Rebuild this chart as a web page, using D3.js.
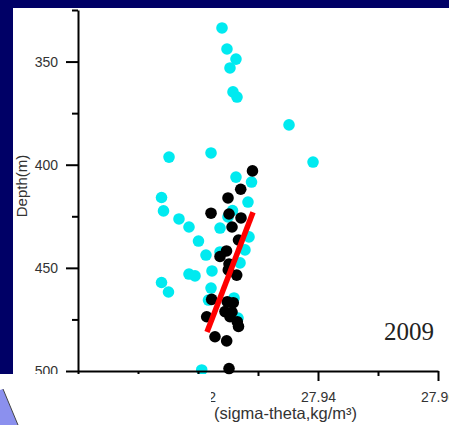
<!DOCTYPE html>
<html>
<head>
<meta charset="utf-8">
<script src="https://cdn.jsdelivr.net/npm/d3@7/dist/d3.min.js"></script>
<style>
  html, body { margin: 0; padding: 0; background: #000066; }
  svg { display: block; }
</style>
</head>
<body>
<svg id="chart" width="449" height="425"></svg>
<script>
// ---- data ----
const cyanSigma = [27.924, 27.92483, 27.92633, 27.92533, 27.92583, 27.9265, 27.93517, 27.93917,
  27.91517, 27.92217, 27.92633, 27.92892, 27.92833, 27.92575, 27.91392, 27.91425, 27.91683, 27.9185,
  27.925, 27.92367, 27.92008, 27.9285, 27.92133, 27.92367, 27.92783, 27.927, 27.92233, 27.9185,
  27.9195, 27.91392, 27.91508, 27.92217, 27.92175, 27.92062, 27.926, 27.92667];
const cyanDepth = [333.7, 343.9, 348.8, 353.1, 364.7, 367.2, 380.7, 398.7,
  396.3, 394.3, 406.0, 408.4, 418.1, 422.2, 415.9, 422.4, 426.3, 430.2,
  425.3, 430.7, 437.0, 435.0, 443.8, 442.3, 441.3, 447.6, 451.5, 453.0,
  453.9, 457.1, 461.7, 459.8, 465.6, 499.5, 464.6, 474.3];

const blackSigma = [27.92908, 27.92712, 27.925, 27.92217, 27.92717, 27.92517, 27.92567, 27.92675,
  27.92475, 27.92367, 27.92517, 27.92505, 27.92645, 27.92228, 27.92488, 27.92588, 27.9245,
  27.92145, 27.92533, 27.92655, 27.92675, 27.92283, 27.92478, 27.92517, 27.92567];
const blackDepth = [403.0, 411.9, 416.1, 423.5, 425.8, 423.9, 430.2, 436.5,
  441.8, 444.5, 448.1, 451.0, 453.5, 465.3, 466.4, 466.9, 471.2,
  473.7, 473.7, 476.1, 478.4, 483.4, 485.4, 498.8, 471.4];

const fitSigma = [27.92917, 27.9215];
const fitDepth = [423.0, 481.1];

const xMajorTicks = [27.90, 27.92, 27.94, 27.96];
const xTickLabels = ["27.90", "27.92", "27.94", "27.96"];
const xMinorTicks = [27.91, 27.93, 27.95];
const yMajorTicks = [350, 400, 450, 500];
const yTickLabels = ["350", "400", "450", "500"];
const yMinorTicks = [325, 375, 425, 475];

const yearLabel = "2009";
const yTitle = "Depth(m)";
const xTitle = "(sigma-theta,kg/m\u00B3)";

// ---- drawing ----
const svg = d3.select("#chart");

// slide background
svg.append("rect").attr("x", 0).attr("y", 0).attr("width", 449).attr("height", 425).attr("fill", "#000066");
svg.append("rect").attr("x", 13).attr("y", 8).attr("width", 436).attr("height", 417).attr("fill", "#ffffff");

const x = d3.scaleLinear().domain([27.90, 27.96]).range([78, 438]);
const y = d3.scaleLinear().domain([325, 500]).range([10, 371]);

const font = "'Liberation Sans', Arial, sans-serif";

// points
const cyan = cyanSigma.map((s, i) => ({s, d: cyanDepth[i]}));
const black = blackSigma.map((s, i) => ({s, d: blackDepth[i]}));

svg.append("g").selectAll("circle").data(cyan).join("circle")
  .attr("cx", d => x(d.s)).attr("cy", d => y(d.d)).attr("r", 5.8).attr("fill", "#00eaf0");
svg.append("g").selectAll("circle").data(black).join("circle")
  .attr("cx", d => x(d.s)).attr("cy", d => y(d.d)).attr("r", 5.8).attr("fill", "#000000");

// fit line
svg.append("line")
  .attr("x1", x(fitSigma[0])).attr("y1", y(fitDepth[0]))
  .attr("x2", x(fitSigma[1])).attr("y2", y(fitDepth[1]))
  .attr("stroke", "#ff0000").attr("stroke-width", 5.5).attr("stroke-linecap", "butt");

// axes
function styleAxis(g) {
  g.selectAll("path, line").attr("stroke", "#000").attr("stroke-width", 2);
  g.selectAll("text").attr("fill", "#333").style("font-family", font).style("font-size", "14px");
}

const yAxis = svg.append("g").attr("transform", "translate(78,0)")
  .call(d3.axisLeft(y).tickValues(yMajorTicks).tickFormat((d, i) => yTickLabels[i])
    .tickSize(12).tickSizeOuter(0).tickPadding(8));
styleAxis(yAxis);
const yMinor = svg.append("g").attr("transform", "translate(78,0)")
  .call(d3.axisLeft(y).tickValues(yMinorTicks).tickFormat("").tickSize(6).tickSizeOuter(0));
styleAxis(yMinor);
yMinor.select(".domain").remove();

const xAxis = svg.append("g").attr("transform", "translate(0,371)")
  .call(d3.axisBottom(x).tickValues(xMajorTicks).tickFormat((d, i) => xTickLabels[i])
    .tickSize(10).tickSizeOuter(0).tickPadding(11));
styleAxis(xAxis);
const xMinor = svg.append("g").attr("transform", "translate(0,371)")
  .call(d3.axisBottom(x).tickValues(xMinorTicks).tickFormat("").tickSize(5).tickSizeOuter(0));
styleAxis(xMinor);
xMinor.select(".domain").remove();

// titles
svg.append("text")
  .attr("transform", "translate(27,186) rotate(-90)")
  .attr("text-anchor", "middle")
  .attr("fill", "#333").style("font-family", font).style("font-size", "15px")
  .text(yTitle);

svg.append("text")
  .attr("x", 214).attr("y", 419)
  .attr("fill", "#333").style("font-family", font).style("font-size", "16.5px")
  .text(xTitle);

svg.append("text")
  .attr("x", 384).attr("y", 340)
  .attr("fill", "#222").style("font-family", "'Liberation Serif', 'Times New Roman', serif")
  .style("font-size", "25px")
  .text(yearLabel);

// overlapping slide shapes at bottom-left
svg.append("rect").attr("x", 0).attr("y", 374).attr("width", 211).attr("height", 51).attr("fill", "#ffffff");
svg.append("path")
  .attr("d", "M0,390 L3,389 L18,425 L0,425 Z")
  .attr("fill", "#8b90ee").attr("stroke", "none");
svg.append("line").attr("x1", 3).attr("y1", 389).attr("x2", 18).attr("y2", 425)
  .attr("stroke", "#444").attr("stroke-width", 1);
</script>
</body>
</html>
